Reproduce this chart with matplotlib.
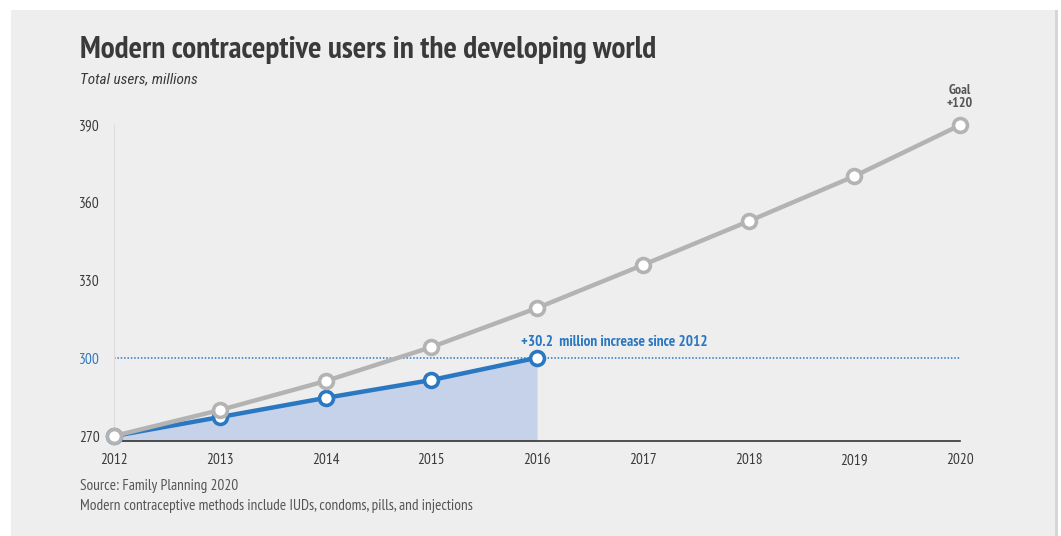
import matplotlib
matplotlib.use("Agg")
import matplotlib.pyplot as plt
from matplotlib import font_manager as fm
from matplotlib.patches import Rectangle


def pick_font(*names):
    have = {f.name for f in fm.fontManager.ttflist}
    for n in names:
        if n in have:
            return n
    return "DejaVu Sans"


NARROW = pick_font("PT Sans Narrow", "Liberation Sans Narrow", "Roboto Condensed")
ITALIC = pick_font("Roboto Condensed", "Asap Condensed", "PT Sans")
plt.rcParams["font.family"] = [NARROW, "DejaVu Sans"]

# Total users, millions
years = [2012, 2013, 2014, 2015, 2016, 2017, 2018, 2019, 2020]
goal_path = [270.0, 280.0, 291.2, 304.3, 319.4, 336.0, 352.9, 370.3, 390.0]
actual_years = [2012, 2013, 2014, 2015, 2016]
actual_users = [270.0, 277.3, 284.7, 291.6, 300.2]
yticks = [270, 300, 330, 360, 390]

BLUE = "#2b78c2"
GREY = "#b3b3b3"
FILL = "#c5d2ea"
TEXT = "#3a3a3a"

fig = plt.figure(figsize=(10.61, 5.36), dpi=100)
fig.patch.set_facecolor("white")
# paper panel with a faint edge on the right
fig.patches.append(Rectangle((11 / 1061, 0), 1044 / 1061, 1 - 10 / 536,
                             transform=fig.transFigure, facecolor="#eeeeee",
                             edgecolor="none", zorder=-2))
fig.patches.append(Rectangle((1055 / 1061, 0), 3 / 1061, 1 - 10 / 536,
                             transform=fig.transFigure, facecolor="#d6d6d6",
                             edgecolor="none", zorder=-2))

ax = fig.add_axes([114 / 1061, 95 / 536, 846 / 1061, 321 / 536])
ax.set_facecolor("none")
ax.set_xlim(2012, 2020)
ax.set_ylim(268.07, 392)

ax.fill_between(actual_years, actual_users, 268.07, color=FILL, lw=0, zorder=1)
ax.axhline(300, color=BLUE, lw=1.1, ls=(0, (1, 1.2)), zorder=1)

ax.plot(actual_years, actual_users, color=BLUE, lw=3.2, marker="o", ms=10,
        mfc="white", mec=BLUE, mew=2.6, zorder=3, clip_on=False)
ax.plot(years, goal_path, color=GREY, lw=3.2, marker="o", ms=10,
        mfc="white", mec=GREY, mew=2.6, zorder=4, clip_on=False)

for s in ["top", "right"]:
    ax.spines[s].set_visible(False)
ax.spines["bottom"].set_color("#333333")
ax.spines["bottom"].set_linewidth(1.2)
ax.spines["left"].set_color("#dddddd")
ax.spines["left"].set_linewidth(0.8)
ax.spines["left"].set_bounds(268.07, 390)

ax.set_xticks(years)
ax.set_yticks(yticks)
ax.tick_params(length=0, labelsize=11, labelcolor=TEXT)
ax.tick_params(axis="x", pad=9)
ax.tick_params(axis="y", pad=10)
for lbl in ax.get_yticklabels():
    if lbl.get_text() == "300":
        lbl.set_color(BLUE)

ax.text(2016 - 0.15, 303.5, "+30.2  million increase since 2012", color=BLUE,
        fontsize=11, fontweight="bold", ha="left", va="bottom")
ax.text(2020, 396, "Goal\n+120", color="#555555", fontsize=10,
        fontweight="bold", ha="center", va="bottom", linespacing=0.95)

fig.text(80 / 1061, 1 - 50 / 536, "Modern contraceptive users in the developing world",
         fontsize=22.5, fontweight="bold", color=TEXT, va="center", ha="left")
fig.text(80 / 1061, 1 - 79 / 536, "Total users, millions", fontsize=11,
         style="italic", color=TEXT, va="center", ha="left", family=[ITALIC, "DejaVu Sans"])
fig.text(80 / 1061, 1 - 486 / 536, "Source: Family Planning 2020", fontsize=11,
         color="#555555", va="center", ha="left")
fig.text(80 / 1061, 1 - 506 / 536,
         "Modern contraceptive methods include IUDs, condoms, pills, and injections",
         fontsize=11, color="#555555", va="center", ha="left")

fig.savefig("out.png", dpi=100)
